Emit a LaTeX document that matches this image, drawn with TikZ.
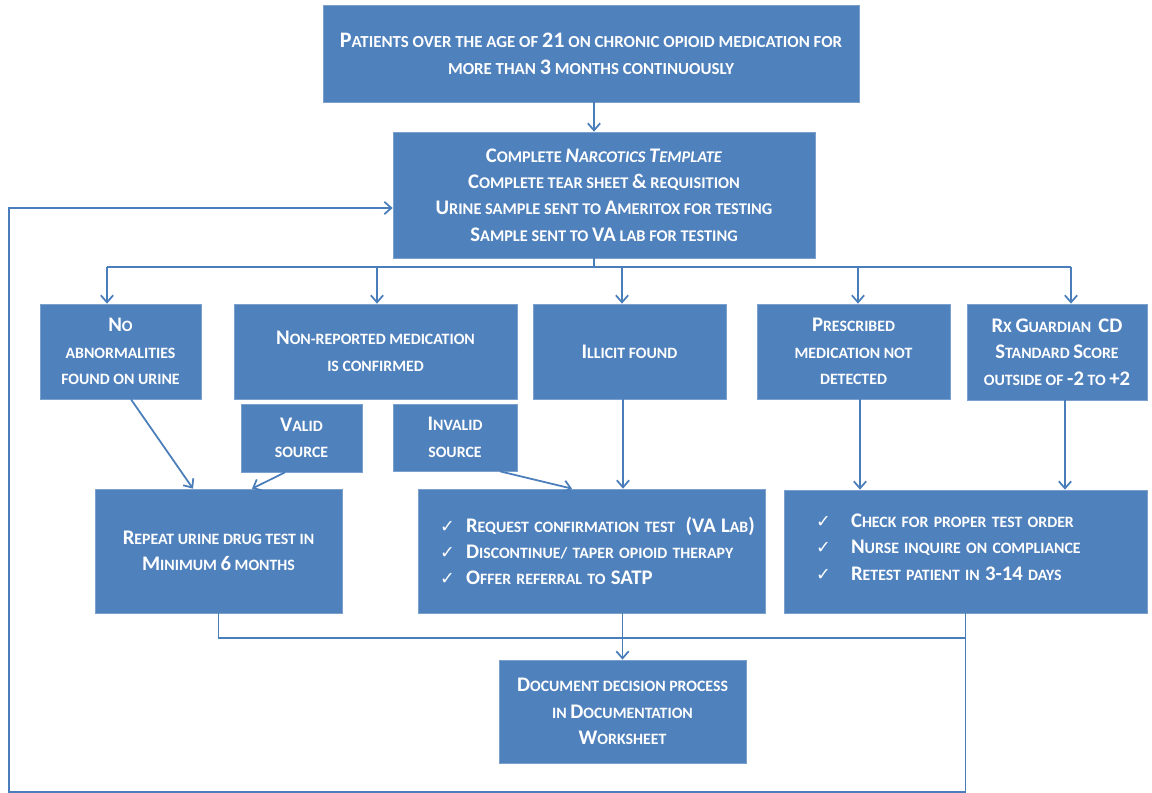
\documentclass[tikz,border=0pt]{standalone}
\usepackage{fontspec}
\setmainfont{Carlito}
\newfontfamily\symfont{DejaVu Sans}
\usetikzlibrary{arrows.meta}

\definecolor{boxblue}{HTML}{4F81BD}
\definecolor{lineblue}{HTML}{4A7EBB}
\newcommand{\Lg}[1]{{\fontsize{11.8}{15}\selectfont #1}}
\newcommand{\ck}[1]{\makebox[#1][l]{\symfont\fontsize{10}{15}\selectfont ✓}}

\begin{document}
\begin{tikzpicture}[x=0.02cm, y=-0.02cm,
    box/.style={draw=boxblue!75!white, line width=0.4pt, fill=boxblue, text=white,
        font=\bfseries\fontsize{9}{15}\selectfont, align=center, inner sep=0pt},
    link/.style={draw=lineblue, line width=1pt},
    arr/.style={link, -{Straight Barb[length=4pt, width=7pt]}}]
    \useasboundingbox (0,0) rectangle (1152,793);

    \coordinate (bus) at (594,267);
    \coordinate (mid) at (217,638);
    \coordinate (lp) at (9,792);

    \node [box, minimum width=10.72cm, minimum height=1.94cm, font=\bfseries\fontsize{9.6}{15.4}\selectfont] (pat) at (591,53.5)
        {\Lg{\fontsize{12.6}{15.4}\selectfont P}ATIENTS OVER THE AGE OF \Lg{\fontsize{12.6}{15.4}\selectfont 21} ON CHRONIC OPIOID MEDICATION FOR\\
         MORE THAN \Lg{\fontsize{12.6}{15.4}\selectfont 3} MONTHS CONTINUOUSLY};
    \node [box, minimum width=8.44cm, minimum height=2.52cm, font=\bfseries\fontsize{9.3}{15}\selectfont] (tmpl) at (604,195)
        {\Lg{C}OMPLETE \textit{\Lg{N}ARCOTICS \Lg{T}EMPLATE}\\
         \Lg{C}OMPLETE TEAR SHEET \Lg{\&} REQUISITION\\
         \Lg{U}RINE SAMPLE SENT TO \Lg{A}MERITOX FOR TESTING\\
         \Lg{S}AMPLE SENT TO \Lg{VA} LAB FOR TESTING};

    \node [box, minimum width=3.22cm, minimum height=1.9cm] (noab) at (120.5,351.5)
        {\Lg{N}O\\ABNORMALITIES\\FOUND ON URINE};
    \node [box, minimum width=5.66cm, minimum height=1.9cm] (nonrep) at (375.5,351.5)
        {\Lg{N}ON-REPORTED MEDICATION\\IS CONFIRMED};
    \node [box, minimum width=3.86cm, minimum height=1.9cm] (illicit) at (629.5,351.5)
        {\Lg{I}LLICIT FOUND};
    \node [box, minimum width=3.86cm, minimum height=1.9cm] (presc) at (853.5,351.5)
        {\Lg{P}RESCRIBED\\MEDICATION NOT\\DETECTED};
    \node [box, minimum width=3.6cm, minimum height=1.92cm] (rx) at (1057,352)
        {\Lg{R}X \Lg{G}UARDIAN \ \Lg{CD}\\\Lg{S}TANDARD \Lg{S}CORE\\OUTSIDE OF \Lg{-2} TO \Lg{+2}};

    \node [box, minimum width=2.42cm, minimum height=1.36cm] (valid) at (301.5,438)
        {\Lg{V}ALID\\SOURCE};
    \node [box, minimum width=2.48cm, minimum height=1.34cm] (invalid) at (455,437.5)
        {\Lg{I}NVALID\\SOURCE};

    \node [box, minimum width=4.94cm, minimum height=2.48cm] (rep) at (218.5,551)
        {\Lg{R}EPEAT URINE DRUG TEST IN\\\Lg{M}INIMUM \Lg{6} MONTHS};
    \node [box, align=left, inner xsep=0.44cm, text width=6.06cm, minimum height=2.48cm] (req) at (591.5,551)
        {\mbox{\ck{0.52cm}\Lg{R}EQUEST CONFIRMATION TEST \ \Lg{(VA L}AB\Lg{)}}\\
         \ck{0.52cm}\Lg{D}ISCONTINUE/ TAPER OPIOID THERAPY\\
         \ck{0.52cm}\Lg{O}FFER REFERRAL TO \Lg{SATP}};
    \node [box, align=left, inner xsep=0.64cm, text width=5.98cm, minimum height=2.46cm] (chk) at (965.5,551.5)
        {\ck{0.7cm}\Lg{C}HECK FOR PROPER TEST ORDER\\
         \ck{0.7cm}\Lg{N}URSE INQUIRE ON COMPLIANCE\\
         \ck{0.7cm}\Lg{R}ETEST PATIENT IN \Lg{3-14} DAYS\\[-10pt]\mbox{}};

    \node [box, minimum width=4.94cm, minimum height=2.06cm] (doc) at (622.5,711.5)
        {\Lg{D}OCUMENT DECISION PROCESS\\IN \Lg{D}OCUMENTATION\\\Lg{W}ORKSHEET};

    % top part
    \draw [arr] ([xshift=0.06cm]pat.south) -- ([xshift=0.06cm]pat.south |- tmpl.north);
    \draw [link] (bus |- tmpl.south) -- (bus);
    \draw [link] ([xshift=-0.27cm]noab.north |- bus) -- ([xshift=0.28cm]rx.north |- bus);
    \draw [arr] ([xshift=-0.27cm]noab.north |- bus) -- ([xshift=-0.27cm]noab.north);
    \draw [arr] ([xshift=0.03cm]nonrep.north |- bus) -- ([xshift=0.03cm]nonrep.north);
    \draw [arr] ([xshift=-0.15cm]illicit.north |- bus) -- ([xshift=-0.15cm]illicit.north);
    \draw [arr] ([xshift=0.09cm]presc.north |- bus) -- ([xshift=0.09cm]presc.north);
    \draw [arr] ([xshift=0.28cm]rx.north |- bus) -- ([xshift=0.28cm]rx.north);

    % results
    \draw [arr] ([xshift=0.21cm]noab.south) -- ([xshift=-0.51cm]rep.north);
    \draw [arr] ([xshift=-0.33cm]valid.south) -- ([xshift=0.67cm]rep.north);
    \draw [arr] ([xshift=0.9cm]invalid.south) -- ([xshift=-0.39cm]req.north);
    \draw [arr] ([xshift=-0.13cm]illicit.south) -- ([xshift=-0.13cm]illicit.south |- req.north);
    \draw [arr] ([xshift=0.13cm]presc.south) -- ([xshift=0.13cm]presc.south |- chk.north);
    \draw [arr] ([xshift=0.16cm]rx.south) -- ([xshift=0.16cm]rx.south |- chk.north);

    % bottom and loop back
    \draw [link] (rep.south) |- (mid -| chk.south) -- (chk.south);
    \draw [arr] (req.south -| doc.north) -- (doc.north);
    \draw [arr] (chk.south) -- (chk.south |- lp) -- (lp) |- ([yshift=-0.26cm]tmpl.west);
\end{tikzpicture}
\end{document}
